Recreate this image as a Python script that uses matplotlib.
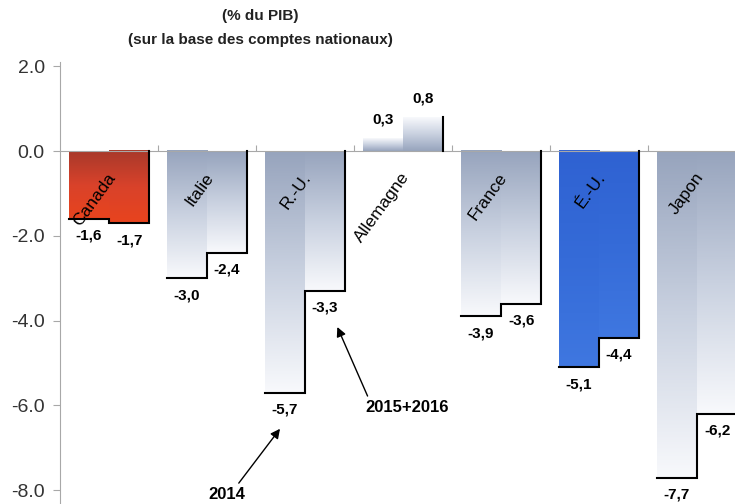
import numpy as np
import matplotlib.pyplot as plt
from matplotlib.colors import LinearSegmentedColormap

# données (% du PIB)
pays = ["Canada", "Italie", "R.-U.", "Allemagne", "France", "É.-U.", "Japon"]
val_2014 = [-1.6, -3.0, -5.7, 0.3, -3.9, -5.1, -7.7]
val_2015_16 = [-1.7, -2.4, -3.3, 0.8, -3.6, -4.4, -6.2]
yticks = [2.0, 0.0, -2.0, -4.0, -6.0, -8.0]

# couleurs (haut -> bas) du dégradé
gris = ("#97a4bd", "#c9d1e0", "#f8f9fc")
couleurs = {"Canada": ("#a8392b", "#d9422a", "#e8441e"),
            "É.-U.": ("#2f62d2", "#356bd8", "#3f77e0")}

plt.rcParams['font.family'] = ['Liberation Sans', 'DejaVu Sans']

fig = plt.figure(figsize=(7.35, 5.04), dpi=100)
ax = fig.add_axes([60 / 735, 1 / 504, 686 / 735, 441 / 504])

w = 0.41
grad = np.linspace(0, 1, 200).reshape(-1, 1)


def barre(x0, v, c, z):
    cmap = LinearSegmentedColormap.from_list("g", list(c))
    orig = "upper" if v < 0 else "lower"
    ax.imshow(grad, cmap=cmap, aspect="auto", origin=orig,
              extent=(x0, x0 + w, min(v, 0), max(v, 0)), zorder=z)


def etiq(v):
    return f"{v:.1f}".replace(".", ",")


for i, p in enumerate(pays):
    c = couleurs.get(p, gris)
    a, b = val_2014[i], val_2015_16[i]
    barre(i - w, a, c, 1)
    barre(i, b, c, 1)
    # ombre (bas + droite)
    if a < 0:
        ax.plot([i - w, i, i, i + w, i + w], [a, a, b, b, 0],
                color="black", lw=1.5, zorder=3, solid_joinstyle="miter")
    else:
        ax.plot([i + w, i + w], [0, b], color="black", lw=1.5, zorder=3)
    # valeurs
    for x, v in ((i - w / 2, a), (i + w / 2, b)):
        y = v - 0.4 if v < 0 else v + 0.45
        ax.text(x, y, etiq(v), ha="center", va="center",
                fontsize=11, fontweight="bold", zorder=4)
    # nom du pays
    ax.text(i - 0.03, -0.45, p, rotation=54, rotation_mode="anchor",
            ha="right", va="top", fontsize=12.5, zorder=4)

ax.annotate("2014", xy=(1.745, -6.55), xytext=(1.2, -8.1),
            ha="center", va="center", fontsize=12, fontweight="bold",
            arrowprops=dict(arrowstyle="-|>", color="black", lw=1,
                            mutation_scale=14, relpos=(0.75, 1), shrinkA=1, shrinkB=0))
ax.annotate("2015+2016", xy=(2.33, -4.15), xytext=(3.04, -6.05),
            ha="center", va="center", fontsize=12, fontweight="bold",
            arrowprops=dict(arrowstyle="-|>", color="black", lw=1,
                            mutation_scale=14, relpos=(0.05, 1), shrinkA=1, shrinkB=0))

ax.set_xlim(-0.5, 6.5)
ax.set_ylim(-8.3, 2.1)

for s in ("top", "right"):
    ax.spines[s].set_visible(False)
ax.spines["left"].set_color("#a8a8a8")
ax.spines["bottom"].set_color("#a8a8a8")
ax.spines["bottom"].set_position(("data", 0))
ax.spines["bottom"].set_zorder(2.5)

ax.set_xticks(np.arange(0.5, 6.5, 1))
ax.tick_params(axis="x", direction="in", length=4, color="#a8a8a8", labelbottom=False)
ax.set_yticks(yticks)
ax.set_yticklabels([f"{t:.1f}" for t in yticks], fontsize=14, color="#333333")
ax.tick_params(axis="y", direction="out", length=5, color="#a8a8a8", pad=6)

fig.text(0.354, 1 - 16 / 504, "(% du PIB)", ha="center", va="center",
         fontsize=11, fontweight="bold", color="#222222")
fig.text(0.354, 1 - 40 / 504, "(sur la base des comptes nationaux)", ha="center",
         va="center", fontsize=11, fontweight="bold", color="#222222")

fig.savefig("out.png", dpi=100)
